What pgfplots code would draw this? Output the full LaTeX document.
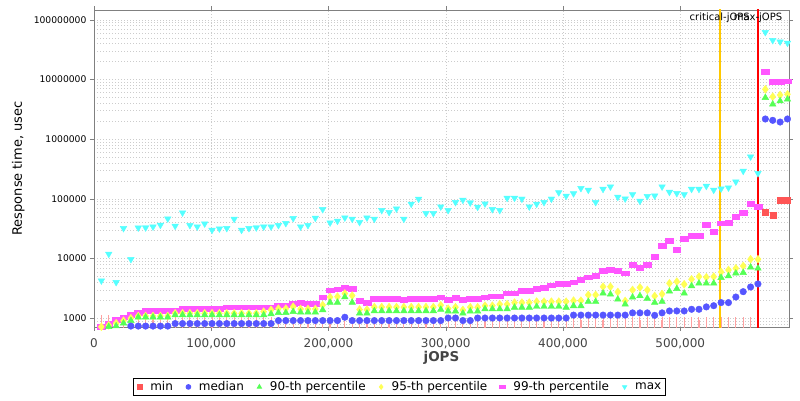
\documentclass[border=0pt]{standalone}
\usepackage{fontspec}
\setmainfont{DejaVu Sans}
\usepackage{pgfplots}
\pgfplotsset{compat=1.18}
\usepackage{pgfplotstable}

\definecolor{cmin}{HTML}{FF5555}
\definecolor{cmed}{HTML}{5555FF}
\definecolor{cp90}{HTML}{55FF55}
\definecolor{cp95}{HTML}{FFFF55}
\definecolor{cp99}{HTML}{FF55FF}
\definecolor{cmax}{HTML}{55FFFF}
\definecolor{ccrit}{HTML}{FFC800}
\definecolor{txtgray}{HTML}{444444}

\pgfplotstableread{
x med p90 p95 p99 mx
6292 650 700 720 720 4260
12584 650 720 760 800 11940
18876 650 740 825 937 4010
25168 650 825 910 1040 32200
31460 740 912 1000 1135 9730
37752 740 1040 1090 1240 32900
44044 740 1040 1090 1325 33000
50336 740 1040 1090 1325 34200
56628 740 1040 1090 1325 36500
62920 740 1040 1090 1325 46600
69212 815 1135 1210 1325 35200
75504 815 1135 1210 1430 58700
81796 815 1135 1210 1430 36100
88088 815 1135 1210 1430 34200
94380 815 1135 1210 1430 38400
100672 815 1135 1210 1430 30100
106964 815 1135 1210 1430 31700
113256 815 1135 1210 1530 32200
119548 815 1135 1210 1530 46000
125840 815 1135 1210 1530 30100
132132 815 1135 1210 1530 32200
138424 815 1135 1210 1530 33000
144716 815 1135 1290 1530 34200
151008 815 1180 1380 1530 34200
157300 915 1240 1450 1650 36100
163592 915 1240 1450 1650 39000
169884 915 1290 1560 1780 47300
176176 915 1260 1430 1850 34200
182468 915 1260 1430 1745 36100
188760 915 1260 1430 1745 47900
195052 915 1380 1660 2250 66900
201344 915 1840 2260 2960 39900
207636 915 1840 2300 3080 42700
213928 1040 2270 2600 3260 48400
220220 915 1840 2400 3110 46100
226512 915 1210 1400 1940 40600
232804 915 1210 1400 1820 48400
239096 915 1325 1540 2130 46100
245388 915 1325 1540 2130 64400
251680 915 1325 1540 2130 59700
257972 915 1325 1540 2130 68500
264264 915 1325 1540 2025 46100
270556 915 1325 1540 2130 82200
276848 915 1325 1540 2130 99600
283140 915 1325 1540 2130 57400
289432 915 1325 1540 2130 57400
295724 915 1400 1650 2250 74100
302016 1010 1310 1450 2050 64400
308308 1010 1310 1530 2230 87700
314600 915 1210 1380 2025 95800
320892 915 1310 1530 2130 86500
327184 1010 1310 1530 2130 73100
333476 1010 1430 1625 2250 83100
339768 1010 1430 1625 2340 66900
346060 1010 1430 1715 2340 64400
352352 1010 1430 1715 2630 103500
358644 1010 1520 1830 2630 103500
364936 1010 1520 1830 2940 100000
371228 1010 1520 1830 2940 74100
377520 1010 1570 1900 3150 82200
383812 1010 1570 1900 3280 87700
390104 1010 1570 1900 3590 100000
396396 1010 1570 1900 3800 128000
402688 1010 1520 1900 3800 112000
408980 1130 1610 1970 4030 123000
415272 1130 1610 1970 4400 150600
421564 1130 1900 2460 4890 141000
427856 1130 1900 2460 5200 87700
434148 1130 2620 3380 6270 146000
440440 1130 2520 3380 6440 160000
446732 1130 2080 2760 6270 107600
453024 1130 1715 1950 5670 100700
459316 1230 2250 2980 7910 119000
465608 1230 2370 3280 6980 92200
471900 1230 2150 2980 7850 110600
478192 1120 1830 2360 10700 113000
484484 1230 1900 2550 16500 160000
490776 1325 2830 3850 20200 130000
497068 1325 3130 4110 13960 124000
503360 1325 2620 3710 21300 119000
509652 1415 3480 4500 24200 146000
515944 1415 3850 4980 24200 146000
522236 1550 3850 4860 37500 164000
528528 1625 3850 4980 28600 141000
534820 1830 4790 5960 39000 148000
541112 1830 5110 6440 40000 154000
547404 2270 5670 6870 49900 194000
553696 2790 5810 7520 58800 293000
559988 3340 7140 9730 83000 509000
566280 3760 6870 9730 74000 268000
572572 2180000 4960000 6850000 13360000 61800000
578864 2070000 3850000 5150000 9190000 45400000
585156 1940000 4360000 5500000 9190000 43000000
591448 2180000 4660000 5650000 9400000 40900000
}\data

\pgfplotstableread{
x mn ep
6292 400 620
12584 400 620
18876 400 550
25168 400 550
31460 400 550
37752 400 550
44044 400 550
50336 400 550
56628 400 550
62920 400 550
69212 400 550
75504 400 550
81796 400 550
88088 400 550
94380 400 550
100672 400 550
106964 400 550
113256 400 550
119548 400 550
125840 400 550
132132 400 550
138424 400 550
144716 400 550
151008 400 550
157300 400 550
163592 400 550
169884 400 550
176176 400 550
182468 400 550
188760 400 550
195052 400 550
201344 400 550
207636 400 550
213928 400 550
220220 400 550
226512 400 550
232804 400 550
239096 400 550
245388 400 550
251680 400 550
257972 400 550
264264 400 550
270556 400 550
276848 400 550
283140 400 550
289432 400 550
295724 400 550
302016 400 550
308308 400 550
314600 400 550
320892 400 550
327184 400 550
333476 400 550
339768 400 550
346060 400 550
352352 400 550
358644 400 550
364936 400 550
371228 400 550
377520 400 550
383812 400 550
390104 400 550
396396 400 550
402688 400 550
408980 400 550
415272 400 550
421564 400 550
427856 400 550
434148 400 550
440440 400 550
446732 400 550
453024 400 550
459316 400 550
465608 400 550
471900 400 550
478192 400 550
484484 400 550
490776 400 550
497068 400 550
503360 400 550
509652 400 550
515944 400 550
522236 400 550
528528 400 550
534820 400 550
541112 400 550
547404 400 550
553696 400 550
559988 400 550
566280 400 550
}\minlow

\pgfplotstableread{
x mn
572572 61000
578864 53700
585156 93300
591448 96000
}\minhigh

\begin{document}
\begin{tikzpicture}
\path[use as bounding box] (0,0) rectangle (800pt,400pt);
\begin{axis}[
  at={(94pt,73pt)}, anchor=south west,
  scale only axis, width=695pt, height=317pt,
  ymode=log,
  xmin=0, xmax=592750, ymin=714, ymax=1.46e8,
  scaled x ticks=false,
  axis line style={gray},
  tick style={gray},
  tick align=outside,
  major tick length=4pt,
  minor tick length=0pt,
  xtick={0,100000,200000,300000,400000,500000},
  xticklabels={0,{100,000},{200,000},{300,000},{400,000},{500,000}},
  ytick={1000,10000,100000,1000000,10000000,100000000},
  yticklabels={1000,10000,100000,1000000,10000000,100000000},
  minor ytick={800,900,2000,3000,4000,5000,6000,7000,8000,9000,
    20000,30000,40000,50000,60000,70000,80000,90000,
    200000,300000,400000,500000,600000,700000,800000,900000,
    2000000,3000000,4000000,5000000,6000000,7000000,8000000,9000000,
    20000000,30000000,40000000,50000000,60000000,70000000,80000000,90000000},
  xmajorgrids=true, ymajorgrids=true, yminorgrids=true,
  major grid style={gray!40, line width=0.5pt, dash pattern=on 1.2pt off 1.8pt},
  minor grid style={gray!40, line width=0.5pt, dash pattern=on 1.2pt off 1.8pt},
  xticklabel style={font=\fontsize{12}{14}\selectfont, text=txtgray, yshift=-4pt},
  yticklabel style={font=\fontsize{9.2}{11}\selectfont, text=black},
  xlabel={jOPS},
  xlabel style={at={(axis description cs:0.5,-0.098)}, anchor=center, font=\bfseries\fontsize{13.5}{16}\selectfont, text=txtgray},
  ylabel={Response time, usec},
  ylabel style={at={(axis description cs:-0.109,0.5)}, anchor=center, font=\fontsize{13}{15}\selectfont},
  legend style={at={(axis description cs:0.4396,-0.189)}, anchor=center, legend columns=-1, draw=black, line width=0.8pt,
    font=\fontsize{12}{14}\selectfont, inner xsep=2pt, inner ysep=1.5pt,
    /tikz/every even column/.append style={column sep=9.5pt}},
  legend image code/.code={%
    \path[draw=none] (-4pt,0pt) -- (8.5pt,0pt);
    \draw[#1, draw=none, mark size=2.4pt] plot coordinates {(0pt,0pt)};},
  reverse legend,
  clip=true,
]
% min error bars (markers below the visible range)
\addplot[only marks, mark=square*, mark size=3pt, color=cmin, forget plot,
  error bars/.cd, y dir=plus, y explicit, error mark=-,
  error bar style={color=cmin!55, line width=1.2pt},
  error mark options={color=cmin!55, line width=1pt, mark size=2.5pt}]
  table[x=x, y=mn, y error plus=ep] {\minlow};

\addplot[only marks, mark=triangle*, mark size=3.8pt, color=cmax, mark options={rotate=180, draw=cmax, fill=cmax}]
  table[x=x, y=mx] {\data};
\addlegendentry{max}
\addplot[only marks, mark=square*, mark size=3pt, color=cp99, mark options={xscale=1.25, yscale=0.8, draw=cp99, fill=cp99}]
  table[x=x, y=p99] {\data};
\addlegendentry{99-th percentile}
\addplot[only marks, mark=diamond*, mark size=4pt, color=cp95, mark options={draw=cp95, fill=cp95}]
  table[x=x, y=p95] {\data};
\addlegendentry{95-th percentile}
\addplot[only marks, mark=triangle*, mark size=3.8pt, color=cp90, mark options={draw=cp90, fill=cp90}]
  table[x=x, y=p90] {\data};
\addlegendentry{90-th percentile}
\addplot[only marks, mark=*, mark size=3.3pt, color=cmed, mark options={draw=cmed, fill=cmed}]
  table[x=x, y=med] {\data};
\addlegendentry{median}
\addplot[only marks, mark=square*, mark size=3pt, color=cmin, mark options={draw=cmin, fill=cmin}]
  table[x=x, y=mn] {\minhigh};
\addlegendentry{min}

\addplot[color=ccrit, line width=2pt, forget plot] coordinates {(533700,500) (533700,2e8)};
\addplot[color=red, line width=2pt, forget plot] coordinates {(566280,500) (566280,2e8)};
\node[font=\fontsize{10}{12}\selectfont, anchor=center] at (axis cs:533700,1.1e8) {critical-jOPS};
\node[font=\fontsize{10}{12}\selectfont, anchor=center] at (axis cs:566280,1.1e8) {max-jOPS};
\end{axis}
\end{tikzpicture}
\end{document}
